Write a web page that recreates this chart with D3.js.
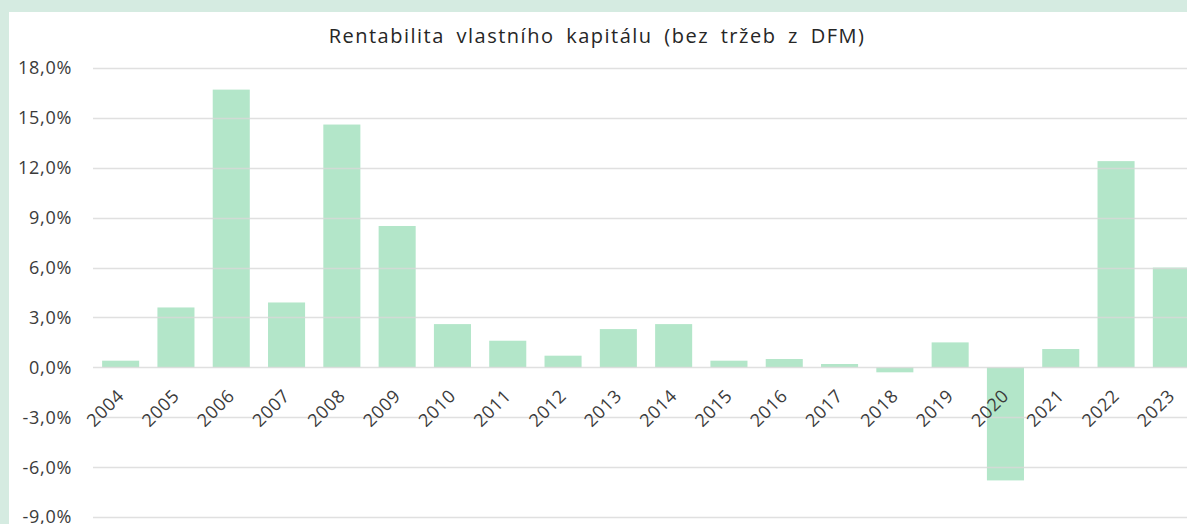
<!DOCTYPE html>
<html>
<head>
<meta charset="utf-8">
<script src="https://cdn.jsdelivr.net/npm/d3@7"></script>
<style>
  body { margin: 0; background: #d5ebe1; overflow: hidden; }
  #chart { position: absolute; left: 9px; top: 12px; background: #fff; }
  .tick-text { fill: #3b3b3b; font-family: "Open Sans", sans-serif; font-size: 18px; letter-spacing: 0.7px; }
</style>
</head>
<body>
<div id="chart"></div>
<script>
// data
var years = ["2004", "2005", "2006", "2007", "2008", "2009", "2010", "2011", "2012", "2013",
             "2014", "2015", "2016", "2017", "2018", "2019", "2020", "2021", "2022", "2023"];
var roe = [0.4, 3.6, 16.7, 3.9, 14.6, 8.5, 2.6, 1.6, 0.7, 2.3,
           2.6, 0.4, 0.5, 0.2, -0.3, 1.5, -6.8, 1.1, 12.4, 6.0];
var yTicks = [18, 15, 12, 9, 6, 3, 0, -3, -6, -9];

var Chart = {
  width : 1178,
  height : 512,
  plotLeft : 84,
  plotRight : 1190, // plot runs past the right edge like the source
  plotTop : 56,
  plotBottom : 505
};

var svg = d3.select("#chart").append("svg")
  .attr("width", Chart.width)
  .attr("height", Chart.height);

var x = d3.scaleBand()
  .domain(years)
  .range([Chart.plotLeft, Chart.plotRight])
  .paddingInner(0.33)
  .paddingOuter(0.165);

var y = d3.scaleLinear()
  .domain([-9, 18])
  .range([Chart.plotBottom, Chart.plotTop]);

// title
svg.append("text")
  .attr("x", 588)
  .attr("y", 31)
  .attr("text-anchor", "middle")
  .attr("fill", "#262626")
  .style("font-family", "'Open Sans', sans-serif")
  .style("font-size", "20px")
  .style("letter-spacing", "1.5px")
  .style("word-spacing", "5px")
  .text("Rentabilita vlastního kapitálu (bez tržeb z DFM)");

// bars
svg.append("g").selectAll("rect")
  .data(roe)
  .enter().append("rect")
  .attr("x", function(d, i){ return x(years[i]); })
  .attr("y", function(d){ return y(Math.max(0, d)); })
  .attr("width", x.bandwidth())
  .attr("height", function(d){ return Math.abs(y(d) - y(0)); })
  .attr("fill", "#b3e6c9");

// grid lines (on top of bars, like the source)
svg.append("g").selectAll("line")
  .data(yTicks)
  .enter().append("line")
  .attr("x1", Chart.plotLeft)
  .attr("x2", Chart.width)
  .attr("y1", function(d){ return Math.round(y(d)) + 0.5; })
  .attr("y2", function(d){ return Math.round(y(d)) + 0.5; })
  .style("stroke", "#d9d9d9")
  .style("stroke-width", 1.3)
  .style("opacity", 0.8);

// y labels
svg.append("g").selectAll("text")
  .data(yTicks)
  .enter().append("text")
  .attr("class", "tick-text")
  .attr("x", 63)
  .attr("y", function(d){ return y(d); })
  .attr("dy", ".36em")
  .attr("text-anchor", "end")
  .text(function(d){ return d3.format(".1f")(d).replace(".", ",").replace("−", "-") + "%"; });

// x labels, rotated
svg.append("g").selectAll("text")
  .data(years)
  .enter().append("text")
  .attr("class", "tick-text")
  .attr("text-anchor", "end")
  .attr("transform", function(d){
    var cx = x(d) + x.bandwidth() / 2;
    return "translate(" + cx + "," + (y(0) + 25) + ") rotate(-45)";
  })
  .attr("dy", ".36em")
  .text(function(d){ return d; });
</script>
</body>
</html>
